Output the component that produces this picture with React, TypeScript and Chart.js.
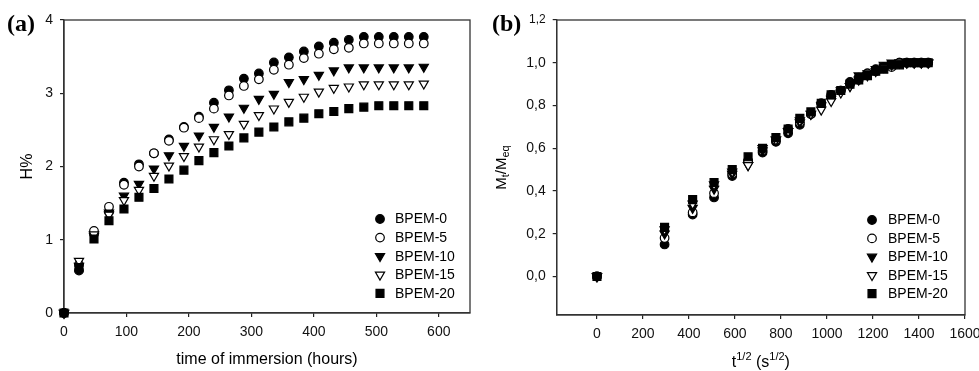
import React, { useEffect, useRef } from 'react';
import { Chart, registerables } from 'chart.js';

Chart.register(...registerables);

// ---------- DATA ----------
const seriesNames = ['BPEM-0', 'BPEM-5', 'BPEM-10', 'BPEM-15', 'BPEM-20'];

// Panel (a): water uptake H% vs time of immersion (hours)
const immersionHours = [0, 24, 48, 72, 96, 120, 144, 168, 192, 216, 240, 264, 288, 312, 336, 360, 384, 408, 432, 456, 480, 504, 528, 552, 576];
const hBPEM0 = [0, 0.58, 1.08, 1.38, 1.78, 2.03, 2.18, 2.37, 2.54, 2.68, 2.87, 3.04, 3.2, 3.27, 3.42, 3.49, 3.57, 3.64, 3.69, 3.73, 3.77, 3.77, 3.77, 3.77, 3.77];
const hBPEM5 = [0, 0.66, 1.12, 1.45, 1.75, 2.0, 2.18, 2.35, 2.53, 2.66, 2.79, 2.97, 3.1, 3.19, 3.32, 3.39, 3.48, 3.54, 3.6, 3.62, 3.68, 3.68, 3.68, 3.68, 3.68];
const hBPEM10 = [0, 0.64, 1.05, 1.37, 1.6, 1.76, 1.97, 2.15, 2.28, 2.42, 2.54, 2.68, 2.8, 2.92, 2.99, 3.15, 3.19, 3.25, 3.31, 3.35, 3.35, 3.35, 3.35, 3.35, 3.36];
const hBPEM15 = [0, 0.71, 1.07, 1.34, 1.54, 1.68, 1.87, 2.01, 2.14, 2.27, 2.37, 2.44, 2.58, 2.7, 2.79, 2.88, 2.95, 3.02, 3.07, 3.09, 3.12, 3.12, 3.12, 3.12, 3.13];
const hBPEM20 = [0, 0.62, 1.01, 1.26, 1.42, 1.58, 1.7, 1.83, 1.95, 2.08, 2.19, 2.28, 2.39, 2.47, 2.54, 2.61, 2.66, 2.72, 2.75, 2.79, 2.81, 2.83, 2.83, 2.83, 2.83];
const xTicksA = [0, 100, 200, 300, 400, 500, 600];
const yTicksA = [0, 1, 2, 3, 4];

// Panel (b): Mt/Meq vs t^1/2 (s^1/2)
const rootSeconds = [0, 294, 416, 509, 588, 657, 720, 778, 831, 882, 930, 975, 1018, 1060, 1100, 1138, 1176, 1212, 1247, 1281, 1315, 1347, 1379, 1410, 1440];
const mBPEM0 = [0, 0.15, 0.29, 0.37, 0.47, 0.54, 0.58, 0.63, 0.67, 0.71, 0.76, 0.81, 0.85, 0.87, 0.91, 0.93, 0.95, 0.97, 0.98, 0.99, 1.0, 1.0, 1.0, 1.0, 1.0];
const mBPEM5 = [0, 0.18, 0.3, 0.39, 0.48, 0.54, 0.59, 0.64, 0.69, 0.72, 0.76, 0.81, 0.84, 0.87, 0.9, 0.92, 0.95, 0.96, 0.98, 0.98, 1.0, 1.0, 1.0, 1.0, 1.0];
const mBPEM10 = [0, 0.2, 0.32, 0.41, 0.48, 0.52, 0.59, 0.64, 0.68, 0.72, 0.76, 0.8, 0.83, 0.87, 0.89, 0.94, 0.95, 0.97, 0.99, 1.0, 1.0, 1.0, 1.0, 1.0, 1.0];
const mBPEM15 = [0, 0.22, 0.34, 0.43, 0.49, 0.52, 0.6, 0.64, 0.68, 0.73, 0.76, 0.78, 0.82, 0.86, 0.89, 0.92, 0.94, 0.96, 0.98, 0.99, 1.0, 1.0, 1.0, 1.0, 1.0];
const mBPEM20 = [0, 0.23, 0.36, 0.44, 0.5, 0.56, 0.6, 0.65, 0.69, 0.74, 0.77, 0.81, 0.85, 0.87, 0.9, 0.92, 0.94, 0.96, 0.97, 0.99, 0.99, 1.0, 1.0, 1.0, 1.0];
const xTicksB = [0, 200, 400, 600, 800, 1000, 1200, 1400, 1600];
const yTicksB = [0, 0.2, 0.4, 0.6, 0.8, 1.0, 1.2];

// ---------- STYLE ----------
const SANS = '"Liberation Sans", Arial, Helvetica, sans-serif';
const SERIF = '"Liberation Serif", "Times New Roman", serif';
const BORDER_W = 1.2;

type Marker = { style: 'circle' | 'triangle' | 'rect'; radius: number; rotation: number; filled: boolean };
const MARKERS: Marker[] = [
  { style: 'circle', radius: 4.3, rotation: 0, filled: true },
  { style: 'circle', radius: 4.3, rotation: 0, filled: false },
  { style: 'triangle', radius: 5.3, rotation: 180, filled: true },
  { style: 'triangle', radius: 5.3, rotation: 180, filled: false },
  { style: 'rect', radius: 5.6, rotation: 0, filled: true },
];

function drawMarker(ctx: CanvasRenderingContext2D, m: Marker, x: number, y: number) {
  ctx.save();
  ctx.beginPath();
  if (m.style === 'circle') {
    ctx.arc(x, y, m.radius, 0, Math.PI * 2);
  } else if (m.style === 'rect') {
    const s = m.radius * Math.SQRT1_2;
    ctx.rect(x - s, y - s, 2 * s, 2 * s);
  } else {
    let rad = (m.rotation * Math.PI) / 180;
    ctx.moveTo(x + Math.sin(rad) * m.radius, y - Math.cos(rad) * m.radius);
    rad += (2 * Math.PI) / 3;
    ctx.lineTo(x + Math.sin(rad) * m.radius, y - Math.cos(rad) * m.radius);
    rad += (2 * Math.PI) / 3;
    ctx.lineTo(x + Math.sin(rad) * m.radius, y - Math.cos(rad) * m.radius);
    ctx.closePath();
  }
  ctx.fillStyle = m.filled ? '#000' : '#fff';
  ctx.fill();
  ctx.lineWidth = BORDER_W;
  ctx.strokeStyle = '#000';
  ctx.stroke();
  ctx.restore();
}

type Run = { text: string; size: number; dy: number };
function drawRuns(ctx: CanvasRenderingContext2D, runs: Run[], cx: number, baseline: number) {
  let total = 0;
  const widths = runs.map((r) => {
    ctx.font = `${r.size}px ${SANS}`;
    const w = ctx.measureText(r.text).width;
    total += w;
    return w;
  });
  let x = cx - total / 2;
  ctx.textAlign = 'left';
  ctx.textBaseline = 'alphabetic';
  ctx.fillStyle = '#000';
  runs.forEach((r, i) => {
    ctx.font = `${r.size}px ${SANS}`;
    ctx.fillText(r.text, x, baseline + r.dy);
    x += widths[i];
  });
}

const framePlugin = {
  id: 'frame',
  beforeDatasetsDraw(chart: any) {
    const { ctx, chartArea: a } = chart;
    ctx.save();
    ctx.strokeStyle = '#333';
    ctx.lineWidth = 1.3;
    ctx.strokeRect(a.left, a.top, a.right - a.left, a.bottom - a.top);
    ctx.restore();
  },
};

function legendPlugin(dxMarker: number, dxText: number, dyFirst: number, rowGap: number) {
  return {
    id: 'customLegend',
    afterDatasetsDraw(chart: any) {
      const { ctx, chartArea: a } = chart;
      ctx.save();
      seriesNames.forEach((name, i) => {
        const y = a.bottom - dyFirst + i * rowGap;
        drawMarker(ctx, MARKERS[i], a.right - dxMarker, y);
        ctx.font = `14px ${SANS}`;
        ctx.fillStyle = '#000';
        ctx.textAlign = 'left';
        ctx.textBaseline = 'middle';
        ctx.fillText(name, a.right - dxText, y + 0.5);
      });
      ctx.restore();
    },
  };
}

function makeDatasets(xs: number[], ys: number[][]) {
  return ys.map((vals, i) => {
    const m = MARKERS[i];
    return {
      label: seriesNames[i],
      data: xs.map((x, j) => ({ x, y: vals[j] })),
      showLine: false,
      clip: false as any,
      order: 5 - i,
      pointStyle: m.style,
      pointRadius: m.radius,
      pointRotation: m.rotation,
      pointBackgroundColor: m.filled ? '#000' : '#fff',
      pointBorderColor: '#000',
      pointBorderWidth: BORDER_W,
      pointHoverRadius: m.radius,
    };
  });
}

function axis(ticksArr: number[], fmt: (v: number) => string, fontFn?: any) {
  return {
    type: 'linear' as const,
    grid: { display: true, drawOnChartArea: false, drawTicks: true, tickLength: 4, color: '#222', lineWidth: 1.2 },
    border: { display: true, color: '#333', width: 1.3 },
    ticks: {
      color: '#111',
      font: fontFn || { family: SANS, size: 14 },
      padding: 7,
      autoSkip: false,
      maxRotation: 0,
      callback: (v: any) => fmt(Number(v)),
    },
    afterBuildTicks: (s: any) => {
      s.ticks = ticksArr.map((v) => ({ value: v }));
    },
  };
}

export default function App() {
  const refA = useRef<HTMLCanvasElement>(null);
  const refB = useRef<HTMLCanvasElement>(null);

  useEffect(() => {
    const textA = {
      id: 'textA',
      afterDraw(chart: any) {
        const ctx = chart.ctx;
        ctx.save();
        ctx.font = `bold 24px ${SERIF}`;
        ctx.fillStyle = '#000';
        ctx.textAlign = 'left';
        ctx.textBaseline = 'alphabetic';
        ctx.fillText('(a)', 7, 31);
        ctx.restore();
      },
    };

    const chartA = new Chart(refA.current as HTMLCanvasElement, {
      type: 'scatter',
      data: { datasets: makeDatasets(immersionHours, [hBPEM0, hBPEM5, hBPEM10, hBPEM15, hBPEM20]) as any },
      options: {
        animation: false,
        responsive: false,
        maintainAspectRatio: false,
        layout: { padding: { top: 20, right: 20, left: 0, bottom: 0 } },
        plugins: { legend: { display: false }, tooltip: { enabled: false } },
        scales: {
          x: {
            ...axis(xTicksA, (v) => String(v)),
            min: 0,
            max: 650,
            afterFit: (s: any) => {
              s.height = 58;
            },
            title: {
              display: true,
              text: 'time of immersion (hours)',
              color: '#000',
              font: { family: SANS, size: 16 },
              padding: { top: 0, bottom: 2 },
            },
          },
          y: {
            ...axis(yTicksA, (v) => String(v)),
            min: 0,
            max: 4,
            afterFit: (s: any) => {
              s.width = 64;
            },
            title: {
              display: true,
              text: 'H%',
              color: '#000',
              font: { family: SANS, size: 16 },
              padding: { top: 18, bottom: 0 },
            },
          },
        } as any,
      },
      plugins: [framePlugin, legendPlugin(90, 75, 94, 18.6), textA],
    });

    const textB = {
      id: 'textB',
      afterDraw(chart: any) {
        const { ctx, chartArea: a } = chart;
        ctx.save();
        ctx.font = `bold 24px ${SERIF}`;
        ctx.fillStyle = '#000';
        ctx.textAlign = 'left';
        ctx.textBaseline = 'alphabetic';
        ctx.fillText('(b)', 2, 31);
        // x title: t^{1/2} (s^{1/2})
        drawRuns(
          ctx,
          [
            { text: 't', size: 16, dy: 0 },
            { text: '1/2', size: 11, dy: -7 },
            { text: ' (s', size: 16, dy: 0 },
            { text: '1/2', size: 11, dy: -7 },
            { text: ')', size: 16, dy: 0 },
          ],
          (a.left + a.right) / 2,
          367
        );
        // y title: M_t/M_eq (rotated)
        ctx.translate(15.5, (a.top + a.bottom) / 2);
        ctx.rotate(-Math.PI / 2);
        drawRuns(
          ctx,
          [
            { text: 'M', size: 15, dy: 0 },
            { text: 't', size: 11, dy: 3 },
            { text: '/M', size: 15, dy: 0 },
            { text: 'eq', size: 11, dy: 3 },
          ],
          0,
          0
        );
        ctx.restore();
      },
    };

    const chartB = new Chart(refB.current as HTMLCanvasElement, {
      type: 'scatter',
      data: { datasets: makeDatasets(rootSeconds, [mBPEM0, mBPEM5, mBPEM10, mBPEM15, mBPEM20]) as any },
      options: {
        animation: false,
        responsive: false,
        maintainAspectRatio: false,
        layout: { padding: { top: 20, right: 45, left: 0, bottom: 0 } },
        plugins: { legend: { display: false }, tooltip: { enabled: false } },
        scales: {
          x: {
            ...axis(xTicksB, (v) => String(v)),
            min: -175,
            max: 1600,
            afterFit: (s: any) => {
              s.height = 56;
            },
          },
          y: {
            ...axis(
              yTicksB,
              (v) => v.toFixed(1).replace('.', ','),
              (c: any) => ({ family: SANS, size: c.tick && c.tick.value > 1.1 ? 12 : 14 })
            ),
            min: -0.18,
            max: 1.2,
            afterFit: (s: any) => {
              s.width = 66.7;
            },
          },
        } as any,
      },
      plugins: [framePlugin, legendPlugin(93, 77, 95, 18.4), textB],
    });

    return () => {
      chartA.destroy();
      chartB.destroy();
    };
  }, []);

  return (
    <div
      style={{
        position: 'absolute',
        left: 0,
        top: 0,
        width: 979,
        height: 371,
        overflow: 'hidden',
        background: '#fff',
      }}
    >
      <canvas
        ref={refA}
        width={490}
        height={371}
        style={{ position: 'absolute', left: 0, top: 0, width: 490, height: 371 }}
      />
      <canvas
        ref={refB}
        width={520}
        height={371}
        style={{ position: 'absolute', left: 490, top: 0, width: 520, height: 371 }}
      />
    </div>
  );
}
